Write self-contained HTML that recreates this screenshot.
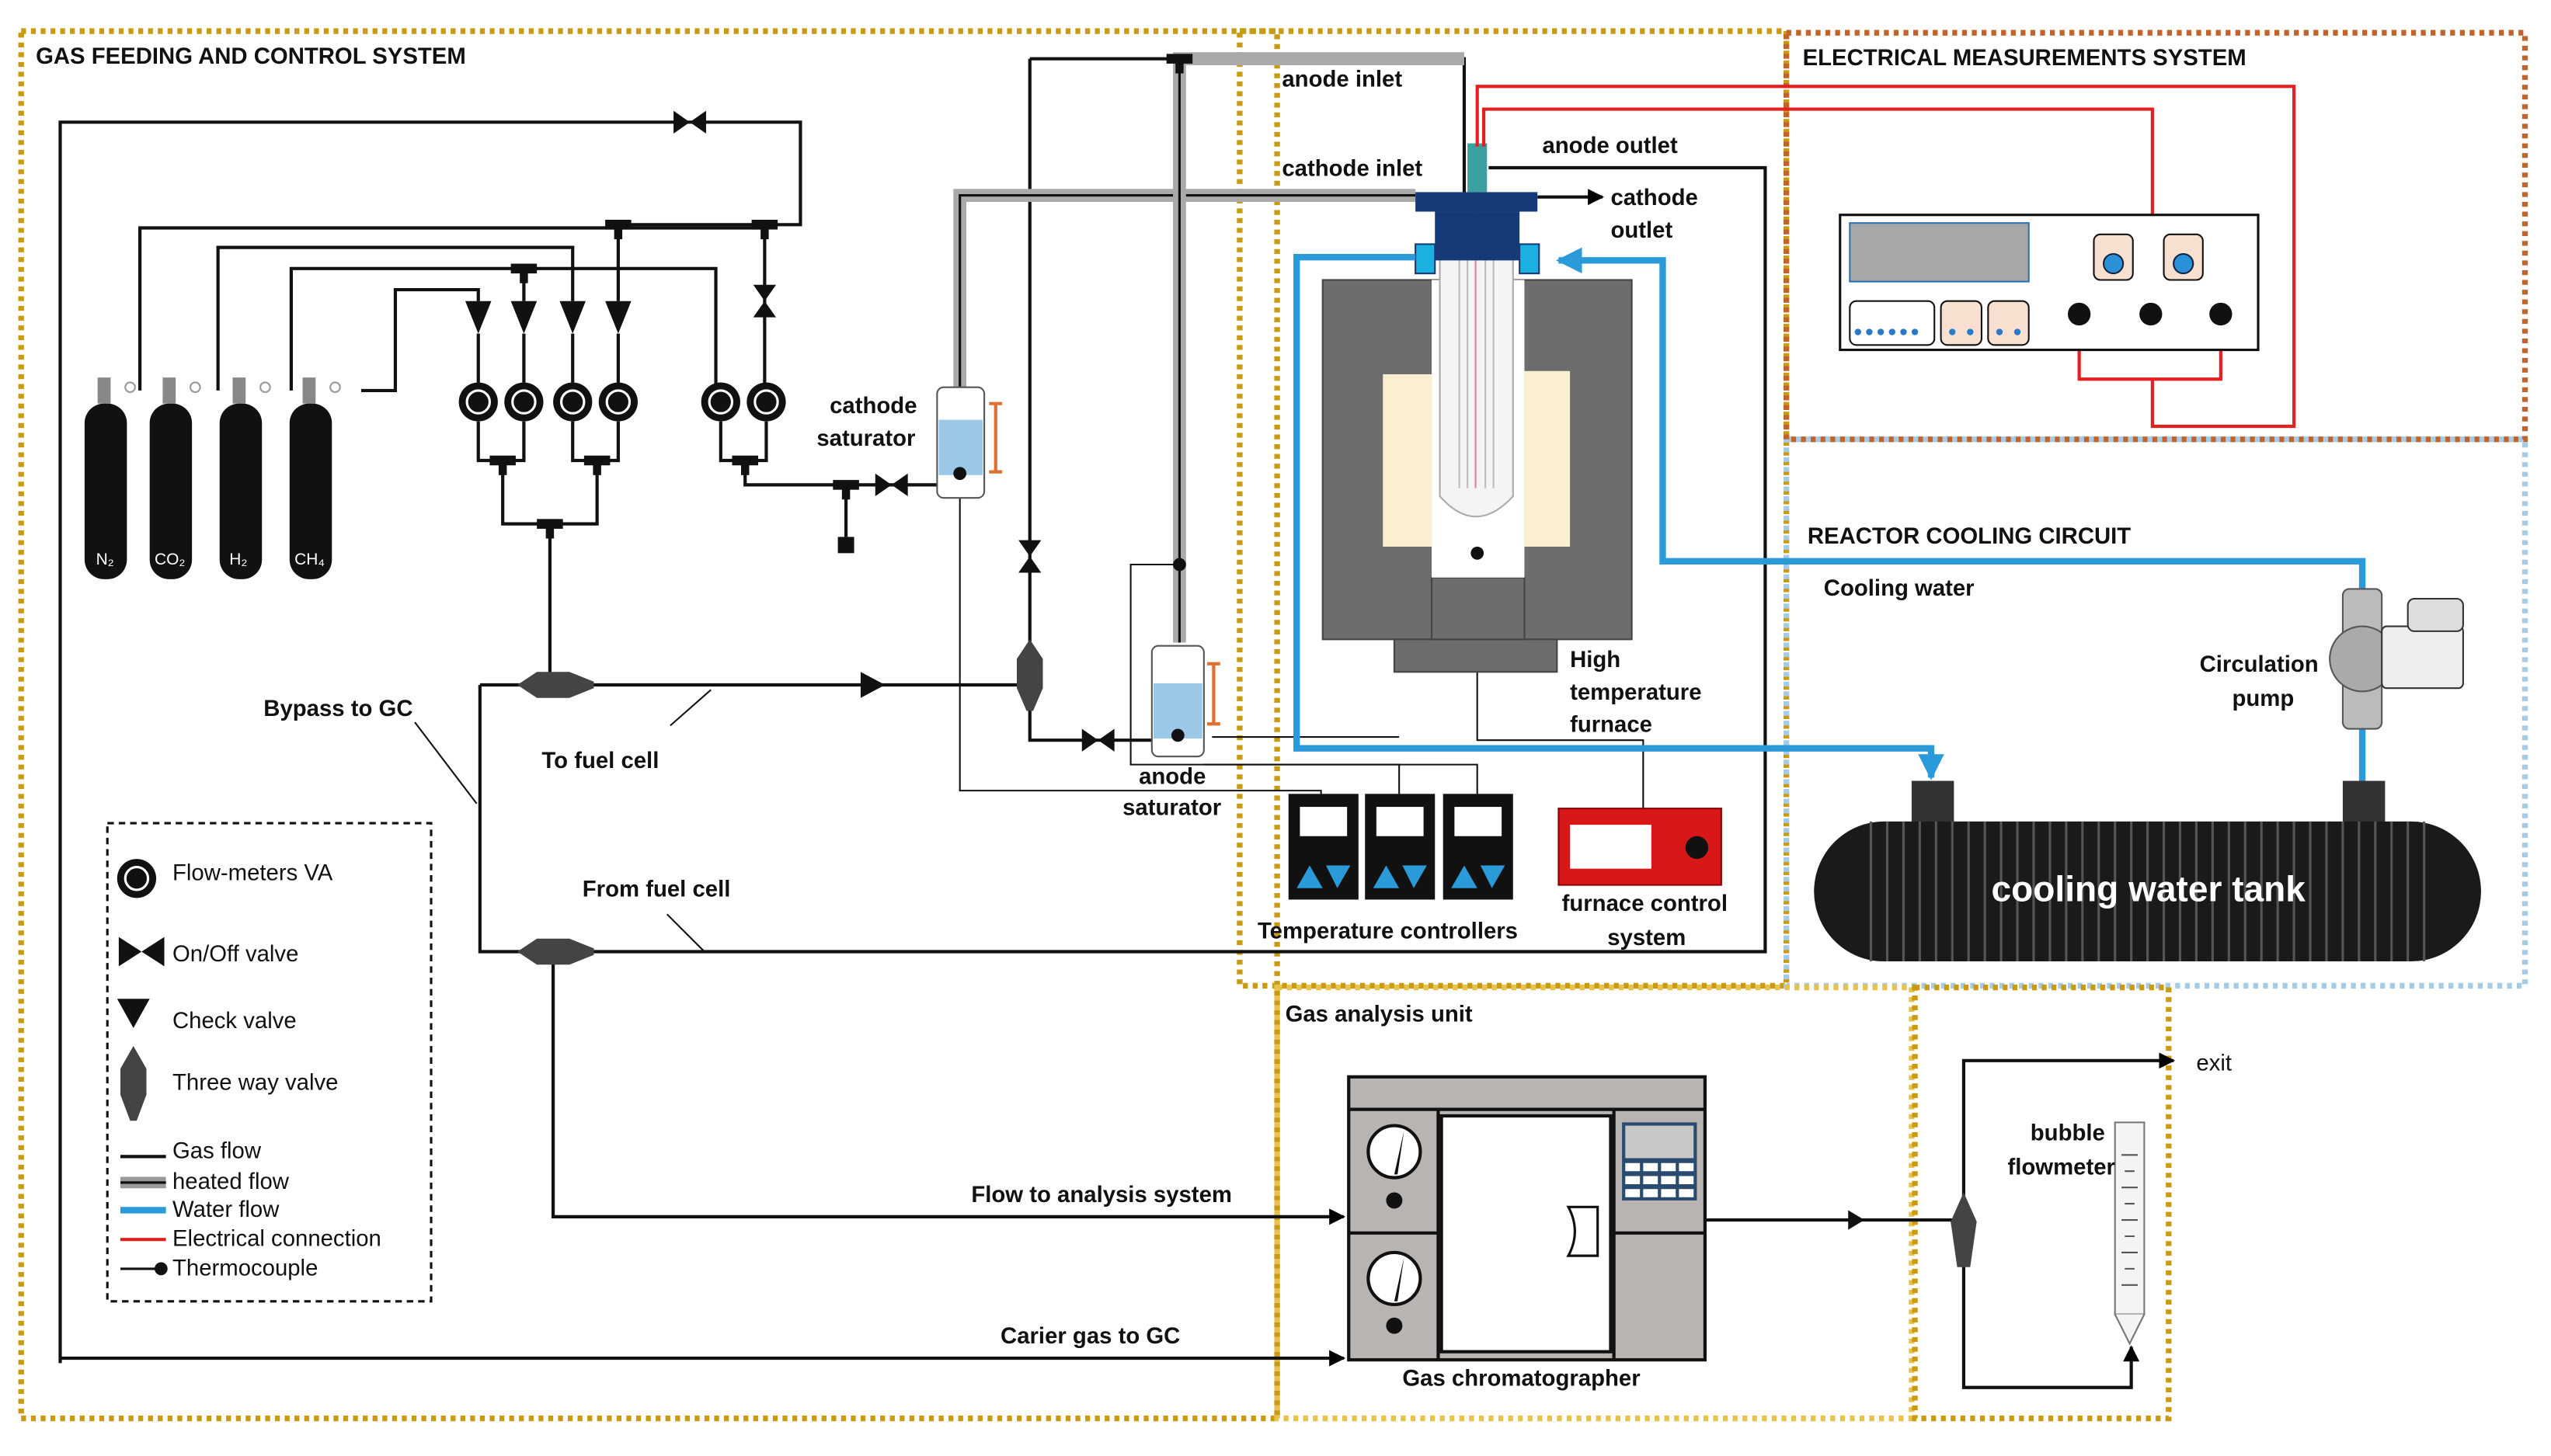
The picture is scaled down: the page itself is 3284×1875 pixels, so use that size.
<!DOCTYPE html>
<html><head><meta charset="utf-8"><style>
html,body{margin:0;padding:0;background:#fff;}
svg{display:block;}
text{font-family:"Liberation Sans",sans-serif;font-weight:bold;fill:#111;}
</style></head><body>
<svg width="3284" height="1875" viewBox="0 0 1568 895" xmlns="http://www.w3.org/2000/svg">
<defs>
<marker id="ar" viewBox="0 0 10 10" refX="9" refY="5" markerWidth="5" markerHeight="5" orient="auto"><path d="M0,0L10,5L0,10z" fill="#000"/></marker>
<marker id="ab" viewBox="0 0 10 10" refX="9" refY="5" markerWidth="4" markerHeight="4" orient="auto"><path d="M0,0L10,5L0,10z" fill="#2a9ad8"/></marker>
<g id="fm"><circle r="12" fill="#111"/><circle r="7" fill="none" stroke="#fff" stroke-width="1.5"/><circle r="4" fill="#111"/></g>
<g id="cv"><path d="M-8,-10L8,-10L0,10z" fill="#111"/></g>
<g id="tee"><rect x="-8" y="-3" width="16" height="6" fill="#111"/><rect x="-2.5" y="0" width="5" height="9" fill="#111"/></g>
<g id="vh"><path d="M-10,-7L0,0L-10,7zM10,-7L0,0L10,7z" fill="#111"/></g>
<g id="vv"><path d="M-7,-10L0,0L7,-10zM-7,10L0,0L7,10z" fill="#111"/></g>
<g id="tc"><rect x="0" y="0" width="43" height="65" fill="#111"/><rect x="7" y="8" width="29" height="18" fill="#fff"/><path d="M5,58L13,44L21,58zM23,44L38,44L30,58z" fill="#2a9ad8"/></g>
</defs>
<rect width="1568" height="895" fill="#fff"/>

<g fill="none" stroke-width="3.5" stroke-dasharray="3 3">
<rect x="13" y="19" width="772" height="853" stroke="#c99a12"/>
<rect x="762" y="19" width="336" height="587" stroke="#c99a12"/>
<rect x="1098" y="270" width="454" height="336" stroke="#a6cbe6"/>
<rect x="1098" y="20" width="454" height="250" stroke="#c0642c"/>
<rect x="785" y="607" width="390" height="265" stroke="#e8c24a"/>
<rect x="1177" y="607" width="156" height="265" stroke="#c99a12"/>
</g>

<text x="22" y="39" font-size="14">GAS FEEDING AND CONTROL SYSTEM</text>
<text x="1108" y="40" font-size="14">ELECTRICAL MEASUREMENTS SYSTEM</text>
<text x="1111" y="334" font-size="14">REACTOR COOLING CIRCUIT</text>
<text x="790" y="628" font-size="14">Gas analysis unit</text>

<g fill="none" stroke="#111" stroke-width="2">
<path d="M37,838V75H492V138H380"/>
<path d="M86,240V140H470"/>
<path d="M134,240V152H352V185"/>
<path d="M179,240V165H440V240"/>
<path d="M222,240H243V178H294V185"/>
<path d="M322,165V185M380,140V185M470,140V238"/>
<path d="M294,205V235M322,205V235M352,205V235M380,205V235"/>
<path d="M294,259V283H322V259M352,259V283H380V259M309,283V322H367V283M338,322V420"/>
<path d="M443,259V283H471V259M458,283V298H576M520,298V330"/>
<path d="M295,421H633M295,421V585H1085V103H915"/>
<path d="M340,585V748H826" marker-end="url(#ar)"/>
<path d="M37,835H826" marker-end="url(#ar)"/>
<path d="M633,36V455H708"/>
<path d="M633,36H900V120"/>
<path d="M1048,750H1200"/>
<path d="M1207,740V652H1336" marker-end="url(#ar)"/>
<path d="M1207,770V853H1310V828" marker-end="url(#ar)"/>
<path d="M945,121H985" marker-end="url(#ar)"/>
</g>
<path d="M544,421l-15,-8v16z" fill="#111"/>
<path d="M1136,744l10,6l-10,6z" fill="#111"/>
<g fill="none">
<path d="M590,238V120H870" stroke="#aaa" stroke-width="8"/>
<path d="M590,238V120H870" stroke="#111" stroke-width="1.5"/>
<path d="M725,395V36H900" stroke="#aaa" stroke-width="8"/>
<path d="M725,395V36" stroke="#111" stroke-width="1.5"/>
</g>
<g fill="none" stroke="#111" stroke-width="1">
<path d="M590,291V486H812V488"/>
<path d="M725,347H695V470H860V488"/>
<path d="M745,453H860"/>
<path d="M740,470H908V488"/>
<path d="M908,340V455H1010V497"/>
</g>
<circle cx="725" cy="347" r="4" fill="#111"/>

<use href="#tee" x="380" y="138"/><use href="#tee" x="470" y="138"/><use href="#tee" x="322" y="165"/>
<use href="#tee" x="309" y="283"/><use href="#tee" x="367" y="283"/><use href="#tee" x="338" y="322"/>
<use href="#tee" x="458" y="283"/><use href="#tee" x="520" y="298"/><use href="#tee" x="725" y="36"/>
<rect x="515" y="330" width="10" height="10" fill="#111"/>
<use href="#vh" x="424" y="75"/><use href="#vv" x="470" y="185"/><use href="#vh" x="548" y="298"/>
<use href="#vv" x="633" y="342"/><use href="#vh" x="675" y="455"/>
<use href="#cv" x="294" y="195"/><use href="#cv" x="322" y="195"/><use href="#cv" x="352" y="195"/><use href="#cv" x="380" y="195"/>
<use href="#fm" x="294" y="247"/><use href="#fm" x="322" y="247"/><use href="#fm" x="352" y="247"/><use href="#fm" x="380" y="247"/>
<use href="#fm" x="443" y="247"/><use href="#fm" x="471" y="247"/>
<path d="M318,421l12,-8h20l15,6v4l-15,6h-20z" fill="#444"/>
<path d="M318,585l12,-8h20l15,6v4l-15,6h-20z" fill="#444"/>
<path d="M633,393l-8,12v18l6,14h4l6,-14v-18z" fill="#444"/>
<path d="M1207,733l-8,18l4,28h8l4,-28z" fill="#444"/>

<g>
<rect x="52" y="248" width="26" height="108" rx="12" fill="#111"/>
<rect x="92" y="248" width="26" height="108" rx="12" fill="#111"/>
<rect x="135" y="248" width="26" height="108" rx="12" fill="#111"/>
<rect x="178" y="248" width="26" height="108" rx="12" fill="#111"/>
<g fill="#888"><rect x="60" y="232" width="8" height="16"/><rect x="100" y="232" width="8" height="16"/><rect x="143" y="232" width="8" height="16"/><rect x="186" y="232" width="8" height="16"/></g>
<g fill="none" stroke="#999"><circle cx="80" cy="238" r="3"/><circle cx="120" cy="238" r="3"/><circle cx="163" cy="238" r="3"/><circle cx="206" cy="238" r="3"/></g>
<g font-size="10"><text x="59" y="347" style="fill:#fff;font-weight:normal">N₂</text><text x="95" y="347" style="fill:#fff;font-weight:normal">CO₂</text><text x="141" y="347" style="fill:#fff;font-weight:normal">H₂</text><text x="181" y="347" style="fill:#fff;font-weight:normal">CH₄</text></g>
</g>

<rect x="576" y="238" width="29" height="68" rx="4" fill="#fff" stroke="#555"/>
<rect x="577" y="258" width="27" height="34" fill="#9cc8e8"/>
<circle cx="590" cy="291" r="4" fill="#111"/>
<path d="M612,248V290M608,248h8M608,290h8" stroke="#e07030" stroke-width="2" fill="none"/>
<rect x="708" y="397" width="32" height="68" rx="4" fill="#fff" stroke="#555"/>
<rect x="709" y="420" width="30" height="34" fill="#9cc8e8"/>
<circle cx="724" cy="452" r="4" fill="#111"/>
<path d="M746,408V445M742,408h8M742,445h8" stroke="#e07030" stroke-width="2" fill="none"/>

<text x="510" y="254" font-size="14">cathode</text>
<text x="502" y="274" font-size="14">saturator</text>
<text x="700" y="482" font-size="14">anode</text>
<text x="690" y="501" font-size="14">saturator</text>
<text x="162" y="440" font-size="14">Bypass to GC</text>
<text x="333" y="472" font-size="14">To fuel cell</text>
<text x="358" y="551" font-size="14">From fuel cell</text>
<text x="597" y="739" font-size="14">Flow to analysis system</text>
<text x="615" y="826" font-size="14">Carier gas to GC</text>
<path d="M255,444L293,494M437,424L412,446M433,585L410,562" stroke="#111" fill="none"/>

<rect x="66" y="506" width="199" height="294" fill="#fff" stroke="#111" stroke-width="1.5" stroke-dasharray="4 3"/>
<use href="#fm" x="84" y="540"/>
<text x="106" y="541" font-size="14" style="font-weight:normal">Flow-meters VA</text>
<path d="M73,576L87,585L73,594zM101,576L87,585L101,594z" fill="#111"/>
<text x="106" y="591" font-size="14" style="font-weight:normal">On/Off valve</text>
<path d="M72,614H92L82,632z" fill="#111"/>
<text x="106" y="632" font-size="14" style="font-weight:normal">Check valve</text>
<path d="M82,643l-8,14v16l6,16h4l6,-16v-16z" fill="#444"/>
<text x="106" y="670" font-size="14" style="font-weight:normal">Three way valve</text>
<path d="M74,711H102" stroke="#111" stroke-width="2"/>
<path d="M74,727H102" stroke="#999" stroke-width="7"/><path d="M74,727H102" stroke="#111" stroke-width="1.5"/>
<path d="M74,744H102" stroke="#2a9ad8" stroke-width="4"/>
<path d="M74,762H102" stroke="#e02020" stroke-width="2"/>
<path d="M74,780H98" stroke="#111" stroke-width="1.5"/><circle cx="99" cy="780" r="4" fill="#111"/>
<g font-size="14">
<text x="106" y="712" style="font-weight:normal">Gas flow</text>
<text x="106" y="731" style="font-weight:normal">heated flow</text>
<text x="106" y="748" style="font-weight:normal">Water flow</text>
<text x="106" y="766" style="font-weight:normal">Electrical connection</text>
<text x="106" y="784" style="font-weight:normal">Thermocouple</text>
</g>

<rect x="813" y="172" width="190" height="221" fill="#6d6d6d" stroke="#444"/>
<rect x="857" y="393" width="100" height="20" fill="#6d6d6d" stroke="#444"/>
<rect x="880" y="355" width="57" height="38" fill="#6d6d6d" stroke="#444"/>
<rect x="850" y="230" width="30" height="106" fill="#fbefd2"/>
<rect x="937" y="228" width="28" height="108" fill="#fbefd2"/>
<rect x="880" y="172" width="57" height="183" fill="#fff"/>
<path d="M885,150V305Q907,330 930,305V150" fill="#f4f4f4" stroke="#aaa"/>
<path d="M897,150V300M902,150V300M913,150V300M918,150V300" stroke="#bbb"/>
<path d="M907,95V300" stroke="#e080a0" stroke-width="1"/>
<circle cx="908" cy="340" r="4" fill="#111"/>
<rect x="870" y="118" width="75" height="12" fill="#163a78"/>
<rect x="882" y="130" width="52" height="30" fill="#163a78"/>
<rect x="870" y="150" width="12" height="18" fill="#1ab0e0" stroke="#163a78"/>
<rect x="934" y="150" width="12" height="18" fill="#1ab0e0" stroke="#163a78"/>
<rect x="902" y="88" width="12" height="30" fill="#3aa0a0"/>
<g fill="none" stroke="#e52020" stroke-width="2">
<path d="M908,90V53H1410V262H1323V233"/>
<path d="M912,90V67H1323V193"/>
<path d="M1278,193V233H1365V193"/>
</g>
<rect x="1131" y="132" width="257" height="83" fill="#fff" stroke="#111" stroke-width="1.5"/>
<rect x="1137" y="137" width="110" height="36" fill="#a8a8a8" stroke="#3070b0"/>
<rect x="1137" y="185" width="52" height="27" rx="4" fill="#fff" stroke="#111"/>
<rect x="1193" y="185" width="25" height="27" rx="4" fill="#f8e0d0" stroke="#111"/>
<rect x="1222" y="185" width="25" height="27" rx="4" fill="#f8e0d0" stroke="#111"/>
<g fill="#2a7ac8"><circle cx="1142" cy="204" r="2"/><circle cx="1149" cy="204" r="2"/><circle cx="1156" cy="204" r="2"/><circle cx="1163" cy="204" r="2"/><circle cx="1170" cy="204" r="2"/><circle cx="1177" cy="204" r="2"/><circle cx="1200" cy="204" r="2"/><circle cx="1211" cy="204" r="2"/><circle cx="1229" cy="204" r="2"/><circle cx="1240" cy="204" r="2"/></g>
<rect x="1287" y="144" width="24" height="28" rx="4" fill="#f8e0d0" stroke="#111"/>
<rect x="1330" y="144" width="24" height="28" rx="4" fill="#f8e0d0" stroke="#111"/>
<circle cx="1299" cy="162" r="6" fill="#2a90d8" stroke="#124"/><circle cx="1342" cy="162" r="6" fill="#2a90d8" stroke="#124"/>
<circle cx="1278" cy="193" r="7" fill="#111"/><circle cx="1322" cy="193" r="7" fill="#111"/><circle cx="1365" cy="193" r="7" fill="#111"/>

<g fill="none" stroke="#2a9ad8" stroke-width="4">
<path d="M1452,448V345H1022V160H958" marker-end="url(#ab)"/>
<path d="M870,158H797V460H1187V478" marker-end="url(#ab)"/>
<path d="M1452,448V485"/>
</g>
<rect x="1440" y="362" width="24" height="86" rx="4" fill="#bbb" stroke="#555"/>
<circle cx="1452" cy="405" r="20" fill="#aaa" stroke="#555"/>
<rect x="1464" y="385" width="50" height="38" rx="3" fill="#eee" stroke="#333"/>
<rect x="1480" y="368" width="34" height="20" rx="4" fill="#ddd" stroke="#333"/>
<text x="1352" y="413" font-size="14">Circulation</text>
<text x="1372" y="434" font-size="14">pump</text>
<text x="1121" y="366" font-size="14">Cooling water</text>
<rect x="1175" y="480" width="26" height="30" fill="#333"/>
<rect x="1440" y="480" width="26" height="30" fill="#333"/>
<rect x="1115" y="505" width="410" height="86" rx="43" fill="#1a1a1a"/>
<g stroke="#555" stroke-width="1.5">
<path d="M1150,505V591M1160,505V591M1170,505V591M1180,505V591M1190,505V591M1200,505V591M1210,505V591M1220,505V591M1230,505V591M1240,505V591M1250,505V591M1260,505V591M1270,505V591M1280,505V591M1290,505V591M1300,505V591M1310,505V591M1320,505V591M1330,505V591M1340,505V591M1350,505V591M1360,505V591M1370,505V591M1380,505V591M1390,505V591M1400,505V591M1410,505V591M1420,505V591M1430,505V591M1440,505V591M1450,505V591M1460,505V591M1470,505V591M1480,505V591M1490,505V591"/>
</g>
<text x="1224" y="554" font-size="22" style="fill:#fff">cooling water tank</text>

<text x="788" y="53" font-size="14">anode inlet</text>
<text x="788" y="108" font-size="14">cathode inlet</text>
<text x="948" y="94" font-size="14">anode outlet</text>
<text x="990" y="126" font-size="14">cathode</text>
<text x="990" y="146" font-size="14">outlet</text>
<text x="965" y="410" font-size="14">High</text>
<text x="965" y="430" font-size="14">temperature</text>
<text x="965" y="450" font-size="14">furnace</text>

<use href="#tc" x="792" y="488"/><use href="#tc" x="839" y="488"/><use href="#tc" x="887" y="488"/>
<rect x="958" y="497" width="100" height="47" fill="#d81818" stroke="#800"/>
<rect x="965" y="507" width="50" height="27" fill="#fff"/>
<circle cx="1043" cy="521" r="7" fill="#111"/>
<text x="773" y="577" font-size="14">Temperature controllers</text>
<text x="960" y="560" font-size="14">furnace control</text>
<text x="988" y="581" font-size="14">system</text>

<rect x="829" y="662" width="219" height="174" fill="#b8b4b2" stroke="#111" stroke-width="2"/>
<path d="M829,682H1048M884,682V836M992,682V836M829,758H884M992,758H1048" stroke="#111" stroke-width="2"/>
<rect x="886" y="686" width="104" height="145" fill="#fff" stroke="#111" stroke-width="2"/>
<circle cx="857" cy="708" r="16" fill="#fff" stroke="#111" stroke-width="2"/>
<circle cx="857" cy="786" r="16" fill="#fff" stroke="#111" stroke-width="2"/>
<path d="M857,722L863,695L859,722z M857,800L863,773L859,800z" fill="#111"/>
<circle cx="857" cy="738" r="5" fill="#111"/><circle cx="857" cy="815" r="5" fill="#111"/>
<rect x="997" y="690" width="46" height="48" fill="#2a4a70"/>
<rect x="999" y="692" width="42" height="20" fill="#c8c8c8"/>
<g fill="#fff"><rect x="999" y="715" width="9" height="5"/><rect x="1010" y="715" width="9" height="5"/><rect x="1021" y="715" width="9" height="5"/><rect x="1032" y="715" width="9" height="5"/><rect x="999" y="723" width="9" height="5"/><rect x="1010" y="723" width="9" height="5"/><rect x="1021" y="723" width="9" height="5"/><rect x="1032" y="723" width="9" height="5"/><rect x="999" y="731" width="9" height="5"/><rect x="1010" y="731" width="9" height="5"/><rect x="1021" y="731" width="9" height="5"/><rect x="1032" y="731" width="9" height="5"/></g>
<path d="M964,742H982V772H964Q972,757 964,742z" fill="#fff" stroke="#111" stroke-width="1.5"/>
<text x="862" y="852" font-size="14">Gas chromatographer</text>

<rect x="1300" y="690" width="18" height="118" fill="#f4f4f4" stroke="#777"/>
<path d="M1300,808L1309,826L1318,808" fill="#f4f4f4" stroke="#777"/>
<g stroke="#555"><path d="M1304,710h10M1306,720h6M1304,730h10M1306,740h6M1304,750h10M1306,760h6M1304,770h10M1306,780h6M1304,790h10"/></g>
<text x="1248" y="701" font-size="14">bubble</text>
<text x="1234" y="722" font-size="14">flowmeter</text>
<text x="1350" y="658" font-size="14" style="font-weight:normal">exit</text>
</svg>
</body></html>
